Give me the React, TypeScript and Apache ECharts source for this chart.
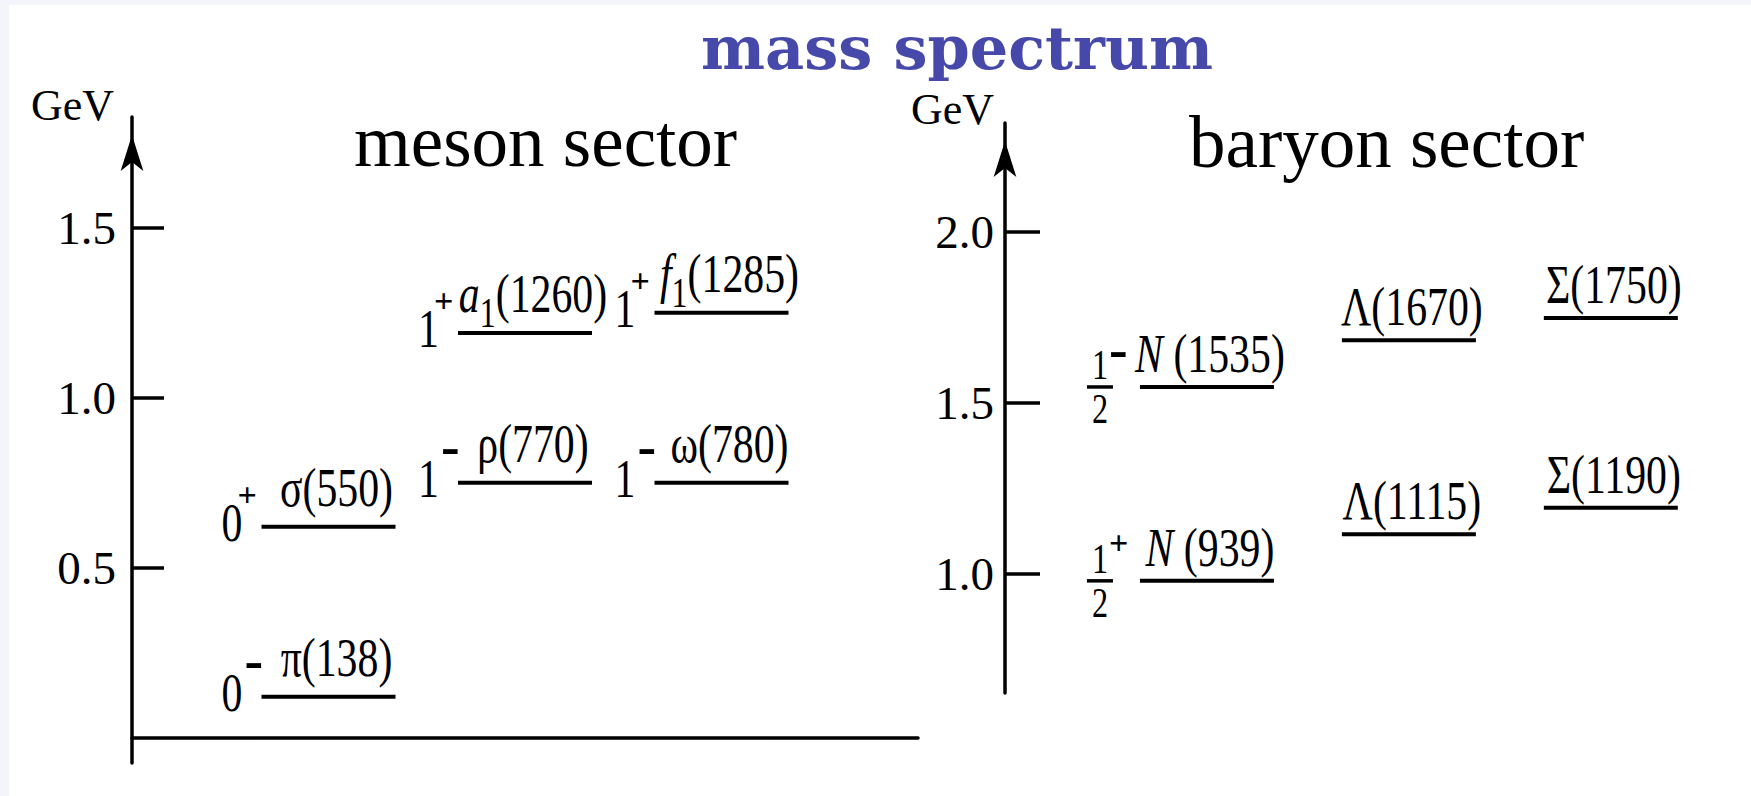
import React, { useEffect, useRef } from 'react';
import * as echarts from 'echarts';

// ---------------- data ----------------
const mesonNames = ['π(138)', 'σ(550)', 'ρ(770)', 'ω(780)', '{it|a}{sub|1}(1260)', '{it|f}{sub|1}(1285)'];
const mesonColumn = [1, 1, 2, 3, 2, 3];
const mesonLevel = [0.121, 0.621, 0.75, 0.75, 1.191, 1.25];
const mesonSpin = ['0', '0', '1', '1', '1', '1'];
const mesonParity = ['-', '+', '-', '-', '+', '+'];

const baryonNames = ['{it|N} (939)', '{it|N} (1535)', 'Λ(1115)', 'Λ(1670)', 'Σ(1190)', 'Σ(1750)'];
const baryonColumn = [1, 1, 2, 2, 3, 3];
const baryonLevel = [0.98, 1.547, 1.116, 1.684, 1.194, 1.749];
const baryonSpin = ['1/2', '1/2', '', '', '', ''];
const baryonParity = ['+', '-', '', '', '', ''];

const mesonTicks = [0.5, 1.0, 1.5];
const baryonTicks = [1.0, 1.5, 2.0];
const mesonRange = [-0.074, 1.826];
const baryonRange = [0.652, 2.319];

const titleText = 'mass spectrum';
const mesonTitle = 'meson sector';
const baryonTitle = 'baryon sector';
const unitName = 'GeV';

// ---------------- styles ----------------
const FIG_FONT = 'Liberation Serif';
const NAME_FS = 55;
const HALF = 67;
const SQUEEZE = 0.76;
const CENTRAL = 0.3375; // central baseline above alphabetic, in em

const rich: any = {
  n: { fontFamily: FIG_FONT, fontSize: NAME_FS, lineHeight: NAME_FS, verticalAlign: 'top', fill: '#000' },
  it: { fontFamily: FIG_FONT, fontSize: NAME_FS, fontStyle: 'italic', lineHeight: NAME_FS, verticalAlign: 'top', fill: '#000' },
  sub: { fontFamily: FIG_FONT, fontSize: 42, lineHeight: 42, padding: [26, 0, 0, 0], verticalAlign: 'top', fill: '#000' },
};

function toRich(s: string) {
  return s
    .split(/(\{\w+\|[^}]*\})/)
    .filter((p) => p.length > 0)
    .map((p) => (p.startsWith('{') ? p : `{n|${p}}`))
    .join('');
}

// glyph centre of the sign is placed `lift` px above the level line
function signText(parity: string, x: number, yLine: number, lift: number) {
  if (parity === '-') {
    const fs = 56;
    return {
      type: 'text', x, y: yLine - lift - 0.1075 * fs,
      style: { text: parity, fontFamily: FIG_FONT, fontSize: fs, fontWeight: 'bold', fill: '#000', align: 'left', verticalAlign: 'middle' },
    };
  }
  const fs = 34;
  return {
    type: 'text', x, y: yLine - lift - 0.0875 * fs,
    style: { text: parity, fontFamily: FIG_FONT, fontSize: fs, fontWeight: 'bold', fill: '#000', align: 'left', verticalAlign: 'middle' },
  };
}

function makeRenderer(names: string[], spins: string[], parities: string[], nameDx: number, nameLift: number) {
  const mainBase = NAME_FS / 2 + CENTRAL * NAME_FS;
  return (params: any, api: any) => {
    const i = params.dataIndex;
    const p = api.coord([api.value(0), api.value(1)]);
    const cx = p[0];
    const y = p[1];
    const x0 = cx - HALF;
    const x1 = cx + HALF;
    const children: any[] = [
      { type: 'line', shape: { x1: x0, y1: y, x2: x1, y2: y }, style: { stroke: '#000', lineWidth: 4 } },
      {
        type: 'text',
        x: cx + nameDx,
        y: y - nameLift - mainBase,
        scaleX: SQUEEZE,
        style: { text: toRich(names[i]), rich, align: 'center', verticalAlign: 'top', fontFamily: FIG_FONT, fontSize: NAME_FS, fill: '#000' },
      },
    ];
    const spin = spins[i];
    const parity = parities[i];
    if (spin && spin.indexOf('/') >= 0) {
      const [num, den] = spin.split('/');
      const c = x0 - 40;
      const fs = 43;
      children.push(
        { type: 'line', shape: { x1: c - 13, y1: y, x2: c + 13, y2: y }, style: { stroke: '#000', lineWidth: 3.5 } },
        { type: 'text', x: c, y: y - 8 - CENTRAL * fs, scaleX: 0.75, style: { text: num, fontFamily: FIG_FONT, fontSize: fs, fill: '#000', align: 'center', verticalAlign: 'middle' } },
        { type: 'text', x: c, y: y + 7 + 0.676 * fs - CENTRAL * fs, scaleX: 0.75, style: { text: den, fontFamily: FIG_FONT, fontSize: fs, fill: '#000', align: 'center', verticalAlign: 'middle' } },
        signText(parity, c + 9, y, parity === '-' ? 32 : 35)
      );
    } else if (spin) {
      children.push(
        { type: 'text', x: x0 - 19, y: y + 14 - CENTRAL * NAME_FS, scaleX: SQUEEZE, style: { text: spin, fontFamily: FIG_FONT, fontSize: NAME_FS, fill: '#000', align: 'right', verticalAlign: 'middle' } },
        signText(parity, parity === '-' ? x0 - 17 : x0 - 24, y, parity === '-' ? 31 : 29)
      );
    }
    return { type: 'group', children };
  };
}

function yAxisFor(gridIndex: number, range: number[], ticks: number[], tickLen: number, nameGap: number, namePad: number, labelMargin: number) {
  return {
    type: 'value',
    gridIndex,
    min: range[0],
    max: range[1],
    name: unitName,
    nameLocation: 'end',
    nameGap,
    nameTextStyle: { fontFamily: FIG_FONT, fontSize: 44, color: '#000', align: 'right', verticalAlign: 'bottom', padding: [0, namePad, 0, 0] },
    axisLine: {
      show: true,
      onZero: false,
      lineStyle: { color: '#000', width: 3.5 },
      symbol: ['none', 'arrow'],
      symbolSize: [17, 36],
      symbolOffset: [0, -18],
    },
    axisTick: { show: true, inside: true, length: tickLen, customValues: ticks, lineStyle: { color: '#000', width: 3.5 } },
    axisLabel: {
      show: true,
      customValues: ticks,
      formatter: (v: number) => v.toFixed(1),
      fontFamily: FIG_FONT,
      fontSize: 47,
      color: '#000',
      margin: labelMargin,
    },
    splitLine: { show: false },
  };
}

export default function App() {
  const ref = useRef<HTMLDivElement>(null);
  useEffect(() => {
    document.body.style.margin = '0';
    if (!ref.current) return;
    const chart = echarts.init(ref.current, null, { renderer: 'svg' });
    const option: any = {
      animation: false,
      backgroundColor: '#f4f5fb',
      graphic: [
        { type: 'rect', z: -100, silent: true, shape: { x: 9, y: 5, width: 1742, height: 791 }, style: { fill: '#ffffff' } },
      ],
      title: [
        { text: titleText, left: 696, top: 12, textStyle: { fontFamily: 'DejaVu Serif', fontWeight: 'bold', fontSize: 60.5, color: '#4648aa' } },
        { text: mesonTitle, left: 349, top: 100, textStyle: { fontFamily: FIG_FONT, fontWeight: 'normal', fontSize: 73, color: '#000' } },
        { text: baryonTitle, left: 1184, top: 101, textStyle: { fontFamily: FIG_FONT, fontWeight: 'normal', fontSize: 73, color: '#000' } },
      ],
      grid: [
        { left: 132, right: 833, top: 117, bottom: 33, containLabel: false, outerBoundsMode: 'none' },
        { left: 1005, right: 19, top: 123, bottom: 103, containLabel: false, outerBoundsMode: 'none' },
      ],
      xAxis: [
        {
          type: 'value',
          gridIndex: 0,
          min: 0,
          max: 4,
          axisLine: { show: true, onZero: true, lineStyle: { color: '#000', width: 3.5 } },
          axisTick: { show: false },
          axisLabel: { show: false },
          splitLine: { show: false },
        },
        { type: 'value', gridIndex: 1, min: 0, max: 3.6, show: false, splitLine: { show: false } },
      ],
      yAxis: [
        yAxisFor(0, mesonRange, mesonTicks, 32, -10, 18, 16),
        yAxisFor(1, baryonRange, baryonTicks, 35, -8, 11, 11),
      ],
      series: [
        {
          type: 'custom',
          name: 'meson',
          xAxisIndex: 0,
          yAxisIndex: 0,
          encode: { x: 0, y: 1 },
          data: mesonColumn.map((c, i) => [c, mesonLevel[i]]),
          renderItem: makeRenderer(mesonNames, mesonSpin, mesonParity, 8, 21),
          clip: false,
        },
        {
          type: 'custom',
          name: 'baryon',
          xAxisIndex: 1,
          yAxisIndex: 1,
          encode: { x: 0, y: 1 },
          data: baryonColumn.map((c, i) => [c, baryonLevel[i]]),
          renderItem: makeRenderer(baryonNames, baryonSpin, baryonParity, 3, 15),
          clip: false,
        },
      ],
    };
    chart.setOption(option);
    return () => chart.dispose();
  }, []);
  return <div ref={ref} style={{ width: 1751, height: 796 }} />;
}
